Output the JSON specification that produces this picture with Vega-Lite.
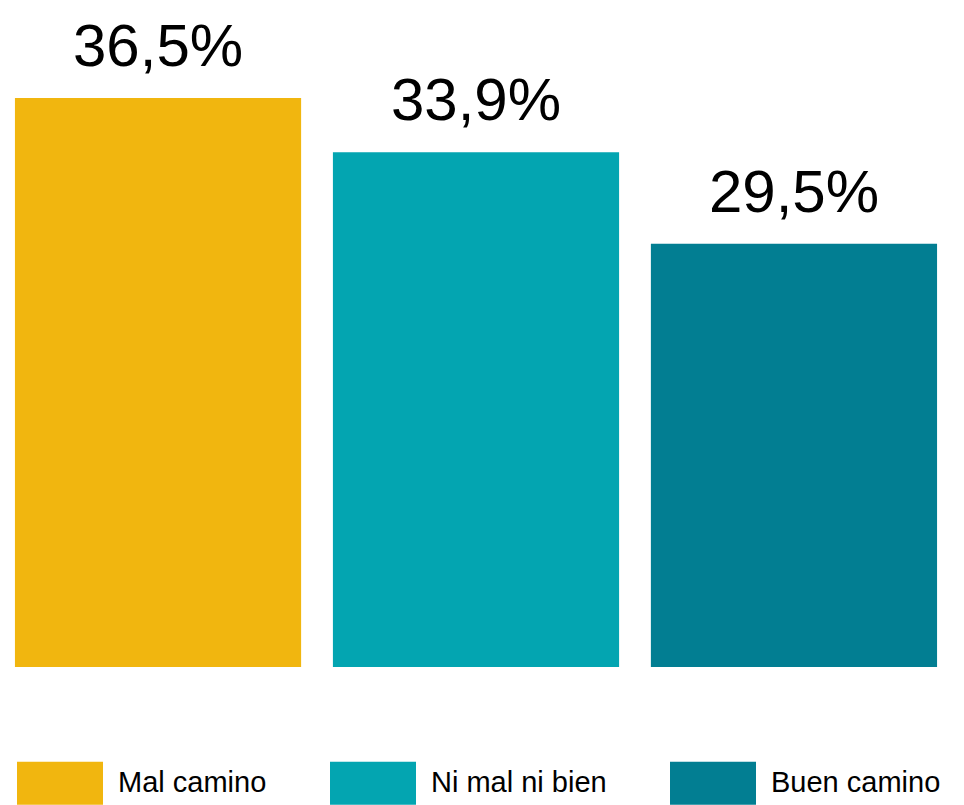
{
  "$schema": "https://vega.github.io/schema/vega-lite/v6.json",
  "width": 952,
  "height": 667,
  "autosize": {"type": "none"},
  "padding": {"left": 0, "top": 0, "right": 12, "bottom": 138},
  "background": "white",
  "data": {
    "values": [
      {"cat": "Mal camino", "value": 36.5, "label": "36,5%"},
      {"cat": "Ni mal ni bien", "value": 33.9, "label": "33,9%"},
      {"cat": "Buen camino", "value": 29.5, "label": "29,5%"}
    ]
  },
  "encoding": {
    "x": {
      "field": "cat",
      "type": "nominal",
      "sort": null,
      "axis": null,
      "scale": {"paddingInner": 0.1, "paddingOuter": 0.047}
    },
    "y": {
      "field": "value",
      "type": "quantitative",
      "axis": null,
      "scale": {"domain": [9.2, 41.2], "zero": false}
    }
  },
  "layer": [
    {
      "mark": {"type": "bar"},
      "encoding": {
        "y2": {"datum": 9.2},
        "color": {
          "field": "cat",
          "type": "nominal",
          "sort": null,
          "scale": {
            "domain": ["Mal camino", "Ni mal ni bien", "Buen camino"],
            "range": ["#F1B60F", "#03A5B1", "#027E92"]
          },
          "legend": {
            "title": null,
            "orient": "none",
            "legendX": 17,
            "legendY": 740,
            "direction": "horizontal",
            "columns": 3,
            "symbolType": "M-1,-0.5H1V0.5H-1Z",
            "symbolSize": 7396,
            "symbolStrokeWidth": 0,
            "symbolOpacity": 1,
            "labelFont": "Liberation Sans",
            "labelFontSize": 29,
            "labelColor": "black",
            "labelOffset": 15,
            "columnPadding": 63,
            "labelLimit": 400
          }
        }
      }
    },
    {
      "mark": {
        "type": "text",
        "dy": -32,
        "baseline": "alphabetic",
        "fontSize": 60,
        "font": "Liberation Sans",
        "color": "black"
      },
      "encoding": {"text": {"field": "label"}}
    }
  ],
  "config": {"view": {"stroke": null}}
}
